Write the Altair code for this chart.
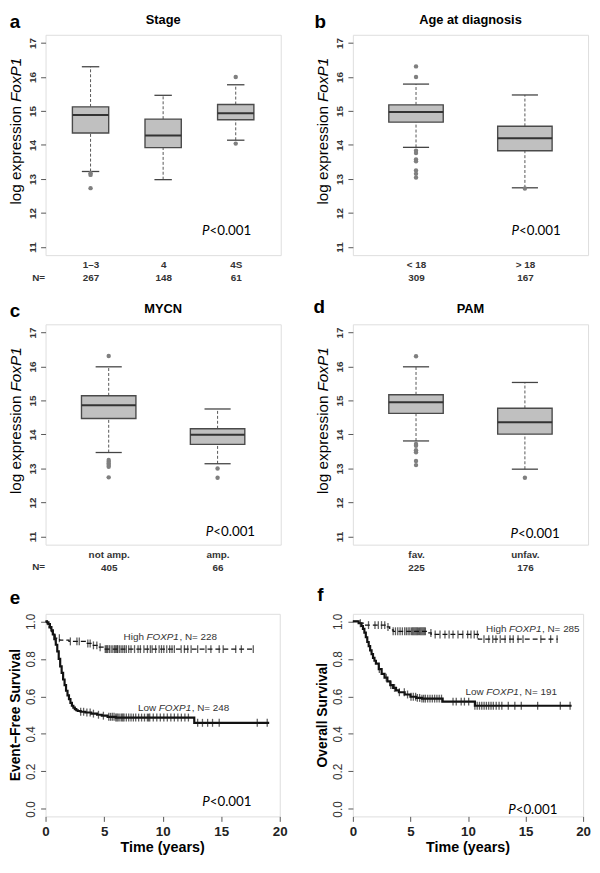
import altair as alt
import pandas as pd
import numpy as np

FONT = "Liberation Sans"
PFONT = "Lato"
BOX_W, BOX_H = 238, 223
KM_H = 205

# ---------------- box plot data ----------------
a_cats = ["1–3", "4", "4S"]
a_n = [267, 148, 61]
a_q1 = [14.35, 13.92, 14.74]
a_med = [14.88, 14.28, 14.93]
a_q3 = [15.12, 14.76, 15.19]
a_lo = [13.22, 12.98, 14.14]
a_hi = [16.30, 15.46, 15.77]
a_out_g = [1, 1, 1, 3, 3]
a_out_v = [13.17, 13.12, 12.73, 16.00, 14.04]

b_cats = ["< 18", "> 18"]
b_n = [309, 167]
b_q1 = [14.67, 13.83]
b_med = [14.97, 14.20]
b_q3 = [15.18, 14.55]
b_lo = [13.93, 12.74]
b_hi = [15.79, 15.47]
b_out_g = [1, 1, 1, 1, 1, 1, 1, 1, 1, 2]
b_out_v = [16.31, 16.00, 13.83, 13.76, 13.57, 13.52, 13.25, 13.15, 13.04, 12.72]

c_cats = ["not amp.", "amp."]
c_n = [405, 66]
c_q1 = [14.47, 13.71]
c_med = [14.86, 13.99]
c_q3 = [15.14, 14.17]
c_lo = [13.47, 13.14]
c_hi = [15.99, 14.75]
c_out_g = [1, 1, 1, 1, 1, 1, 1, 2, 2]
c_out_v = [16.31, 13.25, 13.20, 13.15, 13.10, 13.05, 12.74, 13.00, 12.73]

d_cats = ["fav.", "unfav."]
d_n = [225, 176]
d_q1 = [14.62, 14.01]
d_med = [14.95, 14.36]
d_q3 = [15.17, 14.77]
d_lo = [13.81, 12.98]
d_hi = [15.99, 15.53]
d_out_g = [1, 1, 1, 1, 1, 1, 1, 2]
d_out_v = [16.30, 13.72, 13.67, 13.54, 13.48, 13.22, 13.10, 12.73]

y_ticks_box = [11, 12, 13, 14, 15, 16, 17]

# ---------------- Kaplan-Meier data ----------------
efs_low_t = [0, 0.125, 0.25, 0.375, 0.5, 0.625, 0.75, 0.875, 1.0, 1.125, 1.25, 1.375, 1.5,
             1.625, 1.75, 1.875, 2.0, 2.125, 2.25, 2.375, 2.5, 2.625, 2.75, 3.0, 3.4, 3.9,
             4.4, 4.8, 5.3, 6.0, 12.7, 19.1]
efs_low_s = [1.0, 0.995, 0.985, 0.97, 0.952, 0.93, 0.905, 0.875, 0.84, 0.80, 0.76, 0.725, 0.69,
             0.66, 0.63, 0.605, 0.585, 0.565, 0.55, 0.54, 0.532, 0.526, 0.522, 0.518, 0.514, 0.508,
             0.502, 0.497, 0.491, 0.487, 0.459, 0.459]
efs_low_cens = [3.0, 3.25, 3.53, 3.81, 4.09, 4.52, 4.94, 5.4, 5.55, 5.7, 5.85, 6.0, 6.1, 6.2,
                6.35, 6.5, 6.6, 6.7, 6.9, 7.1, 7.3, 7.5, 7.7, 7.95, 8.2, 8.45, 8.7, 8.8, 8.9,
                9.2, 9.5, 9.8, 10.1, 10.4, 10.7, 11.0, 11.3, 11.6, 11.9, 12.2, 12.99, 13.4,
                13.84, 14.26, 14.83, 18.08, 18.93]
efs_high_t = [0, 0.15, 0.3, 0.45, 0.6, 0.8, 1.2, 2.0, 3.4, 4.0, 4.6, 5.1, 17.8]
efs_high_s = [1.0, 0.985, 0.965, 0.945, 0.925, 0.91, 0.90, 0.893, 0.882, 0.872, 0.862, 0.852, 0.852]
efs_high_cens = [0.84, 1.18, 2.12, 2.68, 2.88, 3.61, 3.81, 4.09, 4.38, 4.66, 5.1, 5.2, 5.3,
                 5.45, 5.6, 5.75, 5.9, 6.0, 6.1, 6.15, 6.3, 6.45, 6.6, 6.75, 6.9, 7.1, 7.3,
                 7.6, 7.9, 8.1, 8.4, 8.7, 8.95, 9.1, 9.4, 9.7, 9.9, 10.1, 10.35, 10.6, 10.8,
                 11.0, 11.58, 11.86, 12.14, 12.43, 12.99, 13.7, 14.12, 14.83, 15.17, 16.24,
                 16.72, 17.74]

os_low_t = [0, 0.5, 0.75, 0.875, 1.0, 1.125, 1.25, 1.375, 1.5, 1.625, 1.75, 1.875, 2.0, 2.25,
            2.5, 2.75, 3.0, 3.25, 3.5, 3.75, 4.0, 4.5, 5.0, 5.5, 6.0, 7.8, 10.6, 19.0]
os_low_s = [1.0, 0.99, 0.975, 0.96, 0.94, 0.915, 0.89, 0.868, 0.845, 0.825, 0.805, 0.79, 0.775,
            0.745, 0.72, 0.70, 0.68, 0.66, 0.645, 0.632, 0.622, 0.61, 0.598, 0.592, 0.588, 0.572,
            0.55, 0.55]
os_low_cens = [2.3, 2.9, 3.3, 3.62, 4.04, 4.47, 4.75, 5.05, 5.25, 5.45, 5.6, 5.8, 6.0, 6.15, 6.3,
               6.5, 6.7, 6.9, 7.1, 7.3, 7.5, 7.7, 8.7, 8.98, 9.41, 9.69, 10.06, 10.6, 10.8,
               11.0, 11.2, 11.4, 11.6, 11.8, 12.0, 12.2, 12.45, 12.7, 12.94, 13.5, 14.07,
               14.63, 16.05, 18.02, 18.87]
os_high_t = [0, 0.4, 0.9, 2.8, 3.2, 3.5, 6.5, 6.8, 10.9, 17.8]
os_high_s = [1.0, 0.99, 0.98, 0.97, 0.955, 0.947, 0.938, 0.93, 0.905, 0.905]
os_high_cens = [0.65, 1.36, 1.92, 2.21, 2.49, 2.77, 3.05, 3.5, 3.7, 3.9, 4.1, 4.3, 4.5, 4.65,
                4.8, 4.95, 5.1, 5.2, 5.3, 5.4, 5.5, 5.6, 5.7, 5.8, 5.9, 6.0, 6.1, 6.2, 6.3,
                6.78, 7.15, 7.57, 8.0, 8.36, 8.7, 9.13, 9.55, 9.97, 10.26, 10.54, 10.82,
                11.39, 11.81, 12.15, 12.43, 12.8, 13.22, 13.65, 13.93, 14.35, 14.78, 16.33,
                17.18, 17.74]

km_x_ticks = [0, 5, 10, 15, 20]
km_y_ticks = [0.0, 0.2, 0.4, 0.6, 0.8, 1.0]


def text_px(text, x, y, size, weight="normal", style="normal", align="center",
            baseline="middle", angle=0, color="#000", font=FONT):
    return alt.Chart(pd.DataFrame({"label": [text]})).mark_text(
        fontSize=size, fontWeight=weight, fontStyle=style, align=align,
        baseline=baseline, angle=angle, color=color, font=font
    ).encode(x=alt.value(x), y=alt.value(y), text="label:N")


def text_data(text, xv, yv, X, Y, size, style="normal", align="center", dx=0,
              color="#000", font=FONT, weight="normal"):
    return alt.Chart(pd.DataFrame({"label": [text], "xv": [xv], "yv": [yv]})).mark_text(
        fontSize=size, fontStyle=style, align=align, baseline="middle", dx=dx,
        color=color, font=font, fontWeight=weight
    ).encode(x=X("xv"), y=Y("yv"), text="label:N")


def box_panel(letter, letter_xy, title, title_y, cats, ns, q1, med, q3, lo, hi,
              out_g, out_v, p_xy, show_n):
    n = len(cats)
    pos = list(range(1, n + 1))
    ext = 0.04 * n
    xs = alt.Scale(domain=[0.5 - ext, n + 0.5 + ext], nice=False, zero=False)
    ys = alt.Scale(domain=[10.76, 17.24], nice=False, zero=False)
    expr = "".join(f"datum.value == {p} ? ['{c}', '{k}'] : " for p, c, k in zip(pos, cats, ns)) + "''"
    xaxis = alt.Axis(values=pos, labelExpr=expr, ticks=False, tickSize=0, domain=False,
                     grid=False, title=None, labelFont=FONT, labelFontSize=10,
                     labelFontWeight="bold", labelColor="#333", labelPadding=5,
                     labelLineHeight=13, labelBaseline="top", labelFlush=False,
                     labelOverlap=False, labelAngle=0)
    yaxis = alt.Axis(values=y_ticks_box, labelAngle=270, labelAlign="center",
                     labelBaseline="bottom", tickSize=5, tickColor="#555", domain=False,
                     grid=False, title=None, labelFont=FONT, labelFontSize=10,
                     labelFontWeight="bold", labelColor="#333", labelPadding=3)

    def X(f):
        return alt.X(f, type="quantitative", scale=xs, axis=xaxis)

    def Y(f):
        return alt.Y(f, type="quantitative", scale=ys, axis=yaxis)

    df = pd.DataFrame(dict(pos=pos, q1=q1, med=med, q3=q3, lo=lo, hi=hi))
    base = alt.Chart(df).transform_calculate(
        xl="datum.pos - 0.25", xr="datum.pos + 0.25",
        sl="datum.pos - 0.12", sr="datum.pos + 0.12")
    layers = [
        base.mark_rule(color="#555", strokeWidth=1, strokeDash=[3, 2]).encode(
            x=X("pos"), y=Y("q3"), y2="hi"),
        base.mark_rule(color="#555", strokeWidth=1, strokeDash=[3, 2]).encode(
            x=X("pos"), y=Y("lo"), y2="q1"),
        base.mark_rule(color="#444", strokeWidth=1.3).encode(x=X("sl"), x2="sr", y=Y("hi")),
        base.mark_rule(color="#444", strokeWidth=1.3).encode(x=X("sl"), x2="sr", y=Y("lo")),
        base.mark_rect(fill="#c0c0c0", stroke="#4a4a4a", strokeWidth=1.4).encode(
            x=X("xl"), x2="xr", y=Y("q1"), y2="q3"),
        base.mark_rule(color="#333", strokeWidth=2).encode(x=X("xl"), x2="xr", y=Y("med")),
        alt.Chart(pd.DataFrame({"g": out_g, "v": out_v})).mark_circle(
            size=20, color="#7f7f7f", opacity=1).encode(x=X("g"), y=Y("v")),
        text_data("P", p_xy[0], p_xy[1], X, Y, 13.5, style="italic", align="right",
                  dx=-17, font=PFONT),
        text_data("<0.001", p_xy[0], p_xy[1], X, Y, 13.5, align="left", dx=-17, font=PFONT),
        text_px(letter, letter_xy[0], letter_xy[1], 19, weight="bold", baseline="alphabetic"),
        text_px(title, BOX_W / 2, title_y, 13, weight="bold"),
        text_px("log expression", -30, 72, 15.5, align="right", angle=270),
        text_px("FoxP1", -30, 68, 15.5, style="italic", align="left", angle=270),
    ]
    if show_n:
        layers.append(text_px("N=", -7, BOX_H + 23, 10, weight="bold", color="#333"))
    return alt.layer(*layers).properties(width=BOX_W, height=BOX_H)


def km_panel(km_w, letter, letter_xy, ytitle, low_t, low_s, low_c, high_t, high_s, high_c,
             high_lab, high_xy, low_lab, low_xy, p_xy):
    xs = alt.Scale(domain=[0, 20], nice=False, zero=False)
    ys = alt.Scale(domain=[-0.04, 1.04], nice=False, zero=False)
    xaxis = alt.Axis(values=km_x_ticks, tickSize=5, tickColor="#555", domain=False, grid=False,
                     title=None, labelFont=FONT, labelFontSize=13.5, labelFontWeight="bold",
                     labelColor="#222", labelPadding=3, labelFlush=False, labelOverlap=False)
    yaxis = alt.Axis(values=km_y_ticks, format=".1f", labelAngle=270, labelAlign="center",
                     labelBaseline="bottom", tickSize=5, tickColor="#555", domain=False,
                     grid=False, title=None, labelFont=FONT, labelFontSize=12,
                     labelColor="#333", labelPadding=3)

    def X(f):
        return alt.X(f, type="quantitative", scale=xs, axis=xaxis)

    def Y(f):
        return alt.Y(f, type="quantitative", scale=ys, axis=yaxis)

    def cens(ts, ss, cs):
        ts = np.asarray(ts)
        ss = np.asarray(ss)
        idx = np.searchsorted(ts, np.asarray(cs), side="right") - 1
        return pd.DataFrame({"t": cs, "s": ss[idx]})

    low = pd.DataFrame({"t": low_t, "s": low_s})
    high = pd.DataFrame({"t": high_t, "s": high_s})
    layers = [
        alt.Chart(high).mark_line(interpolate="step-after", color="#111", strokeWidth=1.3,
                                  strokeDash=[5, 3]).encode(x=X("t"), y=Y("s")),
        alt.Chart(low).mark_line(interpolate="step-after", color="#111",
                                 strokeWidth=2.2).encode(x=X("t"), y=Y("s")),
        alt.Chart(cens(high_t, high_s, high_c)).mark_tick(
            orient="vertical", size=8, thickness=1.3, color="#1a1a1a").encode(x=X("t"), y=Y("s")),
        alt.Chart(cens(low_t, low_s, low_c)).mark_tick(
            orient="vertical", size=8, thickness=1.3, color="#1a1a1a").encode(x=X("t"), y=Y("s")),
    ]
    for (pre, lab), (lx, ly) in ((high_lab, high_xy), (low_lab, low_xy)):
        layers += [
            text_data(pre, lx, ly, X, Y, 10, align="right", dx=-19, color="#333"),
            text_data("FOXP1", lx, ly, X, Y, 10, style="italic", color="#333"),
            text_data(lab, lx, ly, X, Y, 10, align="left", dx=17, color="#333"),
        ]
    layers += [
        text_data("P", p_xy[0], p_xy[1], X, Y, 13.5, style="italic", align="right",
                  dx=-17, font=PFONT),
        text_data("<0.001", p_xy[0], p_xy[1], X, Y, 13.5, align="left", dx=-17, font=PFONT),
        text_px(letter, letter_xy[0], letter_xy[1], 19, weight="bold", baseline="alphabetic"),
        text_px(ytitle, -30, KM_H / 2, 14, weight="bold", angle=270),
        text_px("Time (years)", km_w / 2, KM_H + 32, 14.5, weight="bold"),
    ]
    return alt.layer(*layers).properties(width=km_w, height=KM_H)


pa = box_panel("a", (-31, -7), "Stage", -15, a_cats, a_n, a_q1, a_med, a_q3, a_lo, a_hi,
               a_out_g, a_out_v, (2.87, 11.47), True)
pb = box_panel("b", (-33, -7), "Age at diagnosis", -15, b_cats, b_n, b_q1, b_med, b_q3,
               b_lo, b_hi, b_out_g, b_out_v, (2.10, 11.47), False)
pc = box_panel("c", (-31, -7), "MYCN", -15.5, c_cats, c_n, c_q1, c_med, c_q3, c_lo, c_hi,
               c_out_g, c_out_v, (2.115, 11.12), True)
pd_ = box_panel("d", (-34, -11), "PAM", -15.5, d_cats, d_n, d_q1, d_med, d_q3, d_lo, d_hi,
                d_out_g, d_out_v, (2.09, 11.07), False)
pe = km_panel(237, "e", (-31, -10), "Event–Free Survival", efs_low_t, efs_low_s, efs_low_cens,
              efs_high_t, efs_high_s, efs_high_cens, ("High", ", N= 228"), (10.0, 0.914),
              ("Low", ", N= 248"), (11.05, 0.537), (15.45, 0.037))
pf = km_panel(233, "f", (-33, -13), "Overall Survival", os_low_t, os_low_s, os_low_cens,
              os_high_t, os_high_s, os_high_cens, ("High", ", N= 285"), (14.97, 0.961),
              ("Low", ", N= 191"), (13.0, 0.624), (15.6, -0.004))

chart = alt.concat(pa, pb, pc, pd_, pe, pf, columns=2,
                   spacing={"row": 70, "column": 73}, bounds="flush").properties(
    padding={"left": 0, "top": -1, "right": 0, "bottom": -1}
).configure_view(stroke="#666", strokeWidth=1.5).configure(background="white")

chart.save("out.html", embed_options={"renderer": "svg", "actions": False})
